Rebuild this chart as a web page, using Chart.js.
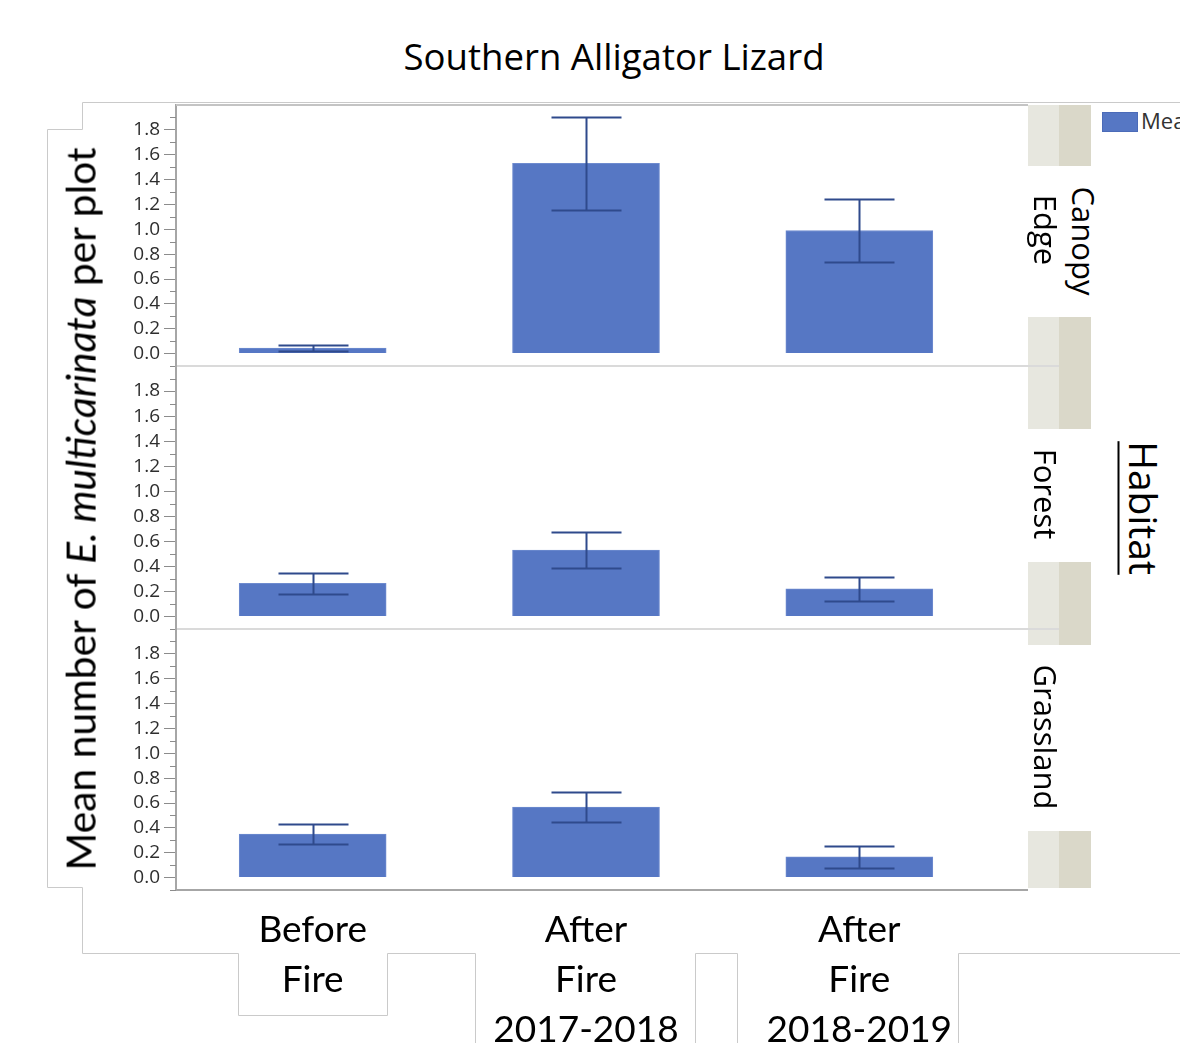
<!DOCTYPE html>
<html>
<head>
<meta charset="utf-8">
<title>Southern Alligator Lizard</title>
<script src="https://cdn.jsdelivr.net/npm/chart.js@4.4.1/dist/chart.umd.min.js"></script>
<style>
  html, body { margin: 0; padding: 0; background: #fff; }
  #page { position: relative; width: 1180px; height: 1043px; overflow: hidden; background: #fff; }
  #page canvas, #page svg { position: absolute; left: 0; }
  .txt { position: absolute; white-space: nowrap; line-height: 1; color: #000; }
  .rot { transform: translate(-50%, -50%) rotate(90deg); font-family: "Open Sans", sans-serif; font-size: 31px; }
  .strip { position: absolute; left: 1028px; width: 63px;
           background: linear-gradient(to right, #e7e7df 0, #e7e7df 31px, #dad8c9 31px, #dad8c9 63px); }
</style>
</head>
<body>
<div id="page">
  <!-- pasted-box outlines -->
  <svg width="1180" height="1043" style="top:0">
    <g fill="none" stroke="#cacaca" stroke-width="1">
      <polyline points="1180,102.5 82.5,102.5 82.5,129.5 47.5,129.5 47.5,887.5 82.5,887.5 82.5,953.5 238.5,953.5 238.5,1015.5 387.5,1015.5 387.5,953.5 475.5,953.5 475.5,1043"/>
      <polyline points="695.5,1043 695.5,953.5 737.5,953.5 737.5,1043"/>
      <polyline points="958.5,1043 958.5,953.5 1180,953.5"/>
    </g>
  </svg>

  <div class="strip" style="top:105px;height:61px"></div>
  <div class="strip" style="top:317px;height:112px"></div>
  <div class="strip" style="top:562px;height:83px"></div>
  <div class="strip" style="top:831px;height:57px"></div>

  <canvas id="panel1" width="1060" height="273" style="top:99px"></canvas>
  <canvas id="panel2" width="1060" height="275" style="top:360px"></canvas>
  <canvas id="panel3" width="1060" height="420" style="top:623px"></canvas>

  <div class="txt" style="left:614px;top:38px;transform:translateX(-50%);font-family:'Open Sans',sans-serif;font-size:36.6px">Southern Alligator Lizard</div>

  <div class="txt" style="left:81px;top:509px;transform:translate(-50%,-50%) rotate(-90deg);font-family:Lato,sans-serif;font-size:40.8px">Mean number of <i>E. multicarinata</i> per plot</div>

  <div class="txt rot" style="left:1083px;top:241px">Canopy</div>
  <div class="txt rot" style="left:1045px;top:230px">Edge</div>
  <div class="txt rot" style="left:1045px;top:494px">Forest</div>
  <div class="txt rot" style="left:1045px;top:737px">Grassland</div>
  <div class="txt rot" style="left:1144px;top:508px;font-size:39px;text-decoration:underline;text-decoration-thickness:2px;text-underline-offset:9px">Habitat</div>

  <div style="position:absolute;left:1102px;top:112px;width:34px;height:18px;background:#5677c4;border:1px solid #4b6bb8"></div>
  <div class="txt" style="left:1141px;top:109px;font-family:'Open Sans',sans-serif;font-size:22px;color:#333">Mean</div>
</div>

<script>
// categories (x axis), one label line per array entry
const periods = [['Before', 'Fire'], ['After', 'Fire', '2017-2018'], ['After', 'Fire', '2018-2019']];
const habitats = ['Canopy Edge', 'Forest', 'Grassland'];

// mean number per plot and error bar half-width
const canopyEdgeMean = [0.045, 1.53, 0.99];
const canopyEdgeErr = [0.025, 0.375, 0.255];
const forestMean = [0.265, 0.53, 0.22];
const forestErr = [0.086, 0.144, 0.096];
const grasslandMean = [0.35, 0.568, 0.166];
const grasslandErr = [0.08, 0.117, 0.088];

// labelled y ticks
const yTickLabels = [0.0, 0.2, 0.4, 0.6, 0.8, 1.0, 1.2, 1.4, 1.6, 1.8];

const barBlue = '#5677c4';
const errColor = '#2f4a8c';
const axisGray = '#a6a6a6';
const tickGray = '#8c8c8c';

function isMajor(v) {
  const t = Math.round(v * 10);
  return yTickLabels.some(l => Math.round(l * 10) === t);
}

// error bars, minor ticks and the frame lines around each panel
const panelDecor = {
  id: 'panelDecor',
  afterDatasetsDraw(chart) {
    const opts = chart.options.plugins.panelDecor;
    const y = chart.scales.y;
    const ctx = chart.ctx;
    const meta = chart.getDatasetMeta(0);
    ctx.save();
    ctx.strokeStyle = errColor;
    ctx.lineWidth = 2;
    meta.data.forEach((bar, i) => {
      const m = opts.means[i], e = opts.errs[i];
      const top = Math.round(y.getPixelForValue(m + e)) + 0.5;
      const bot = Math.round(y.getPixelForValue(m - e)) + 0.5;
      const x = Math.round(bar.x) + 0.5;
      ctx.beginPath();
      ctx.moveTo(x, top); ctx.lineTo(x, bot);
      ctx.moveTo(x - 35, top); ctx.lineTo(x + 35, top);
      ctx.moveTo(x - 35, bot); ctx.lineTo(x + 35, bot);
      ctx.stroke();
    });
    ctx.restore();
  },
  afterDraw(chart) {
    const opts = chart.options.plugins.panelDecor;
    const y = chart.scales.y;
    const area = chart.chartArea;
    const ctx = chart.ctx;
    ctx.save();
    // minor ticks
    ctx.strokeStyle = tickGray;
    ctx.lineWidth = 1;
    y.ticks.forEach(t => {
      if (isMajor(t.value) || t.value > 1.95) return;
      const py = Math.round(y.getPixelForValue(t.value)) + 0.5;
      ctx.beginPath();
      ctx.moveTo(area.left - 6, py);
      ctx.lineTo(area.left, py);
      ctx.stroke();
    });
    if (opts.top) {
      ctx.strokeStyle = '#c4c4c4';
      ctx.lineWidth = 2;
      ctx.beginPath();
      ctx.moveTo(area.left, area.top);
      ctx.lineTo(1028, area.top);
      ctx.stroke();
    }
    if (opts.separator) {
      ctx.strokeStyle = '#dadada';
      ctx.lineWidth = 2;
      ctx.beginPath();
      ctx.moveTo(area.left, area.bottom);
      ctx.lineTo(1059, area.bottom);
      ctx.stroke();
    }
    if (opts.bottom) {
      ctx.strokeStyle = axisGray;
      ctx.lineWidth = 2;
      ctx.beginPath();
      ctx.moveTo(area.right - 2, area.bottom);
      ctx.lineTo(1028, area.bottom);
      ctx.stroke();
    }
    ctx.restore();
  }
};

function makePanel(id, means, errs, decor, showX) {
  const canvas = document.getElementById(id);
  new Chart(canvas, {
    type: 'bar',
    data: {
      labels: periods,
      datasets: [{
        label: 'Mean',
        data: means,
        backgroundColor: barBlue,
        borderColor: '#6e8bcf',
        borderWidth: 1,
        barThickness: 147
      }]
    },
    options: {
      responsive: false,
      animation: false,
      devicePixelRatio: 1,
      layout: { padding: { left: 0, right: 64, top: 6, bottom: showX ? 0 : 6 } },
      plugins: {
        legend: { display: false },
        tooltip: { enabled: false },
        panelDecor: Object.assign({ means: means, errs: errs }, decor)
      },
      scales: {
        x: {
          display: showX,
          grid: { display: false, drawTicks: false },
          border: { display: true, color: axisGray, width: 2 },
          ticks: {
            color: '#000',
            padding: 15,
            maxRotation: 0,
            autoSkip: false,
            font: { family: 'Lato', size: 37, lineHeight: '50px' }
          },
          afterFit(scale) {
            scale.height = showX ? 153 : 0;
            scale.paddingLeft = 0;
            scale.paddingRight = 0;
          }
        },
        y: {
          min: -0.1,
          max: 2.0,
          grid: {
            drawOnChartArea: false,
            drawTicks: true,
            tickLength: 12,
            lineWidth: 1,
            tickColor: c => (isMajor(c.tick.value) ? tickGray : 'rgba(0,0,0,0)')
          },
          border: { display: true, color: axisGray, width: 2 },
          ticks: {
            stepSize: 0.1,
            autoSkip: false,
            padding: 4,
            color: '#2e2e2e',
            font: { family: 'Open Sans', size: 19 },
            callback: v => (isMajor(v) && v > -0.05 && v < 1.85 ? Number(v).toFixed(1) : '')
          },
          afterFit(scale) {
            scale.width = 176;
            scale.paddingTop = 0;
            scale.paddingBottom = 0;
          }
        }
      }
    },
    plugins: [panelDecor]
  });
}

makePanel('panel1', canopyEdgeMean, canopyEdgeErr, { top: true, separator: true }, false);
makePanel('panel2', forestMean, forestErr, { separator: true }, false);
makePanel('panel3', grasslandMean, grasslandErr, { bottom: true }, true);
</script>
</body>
</html>
